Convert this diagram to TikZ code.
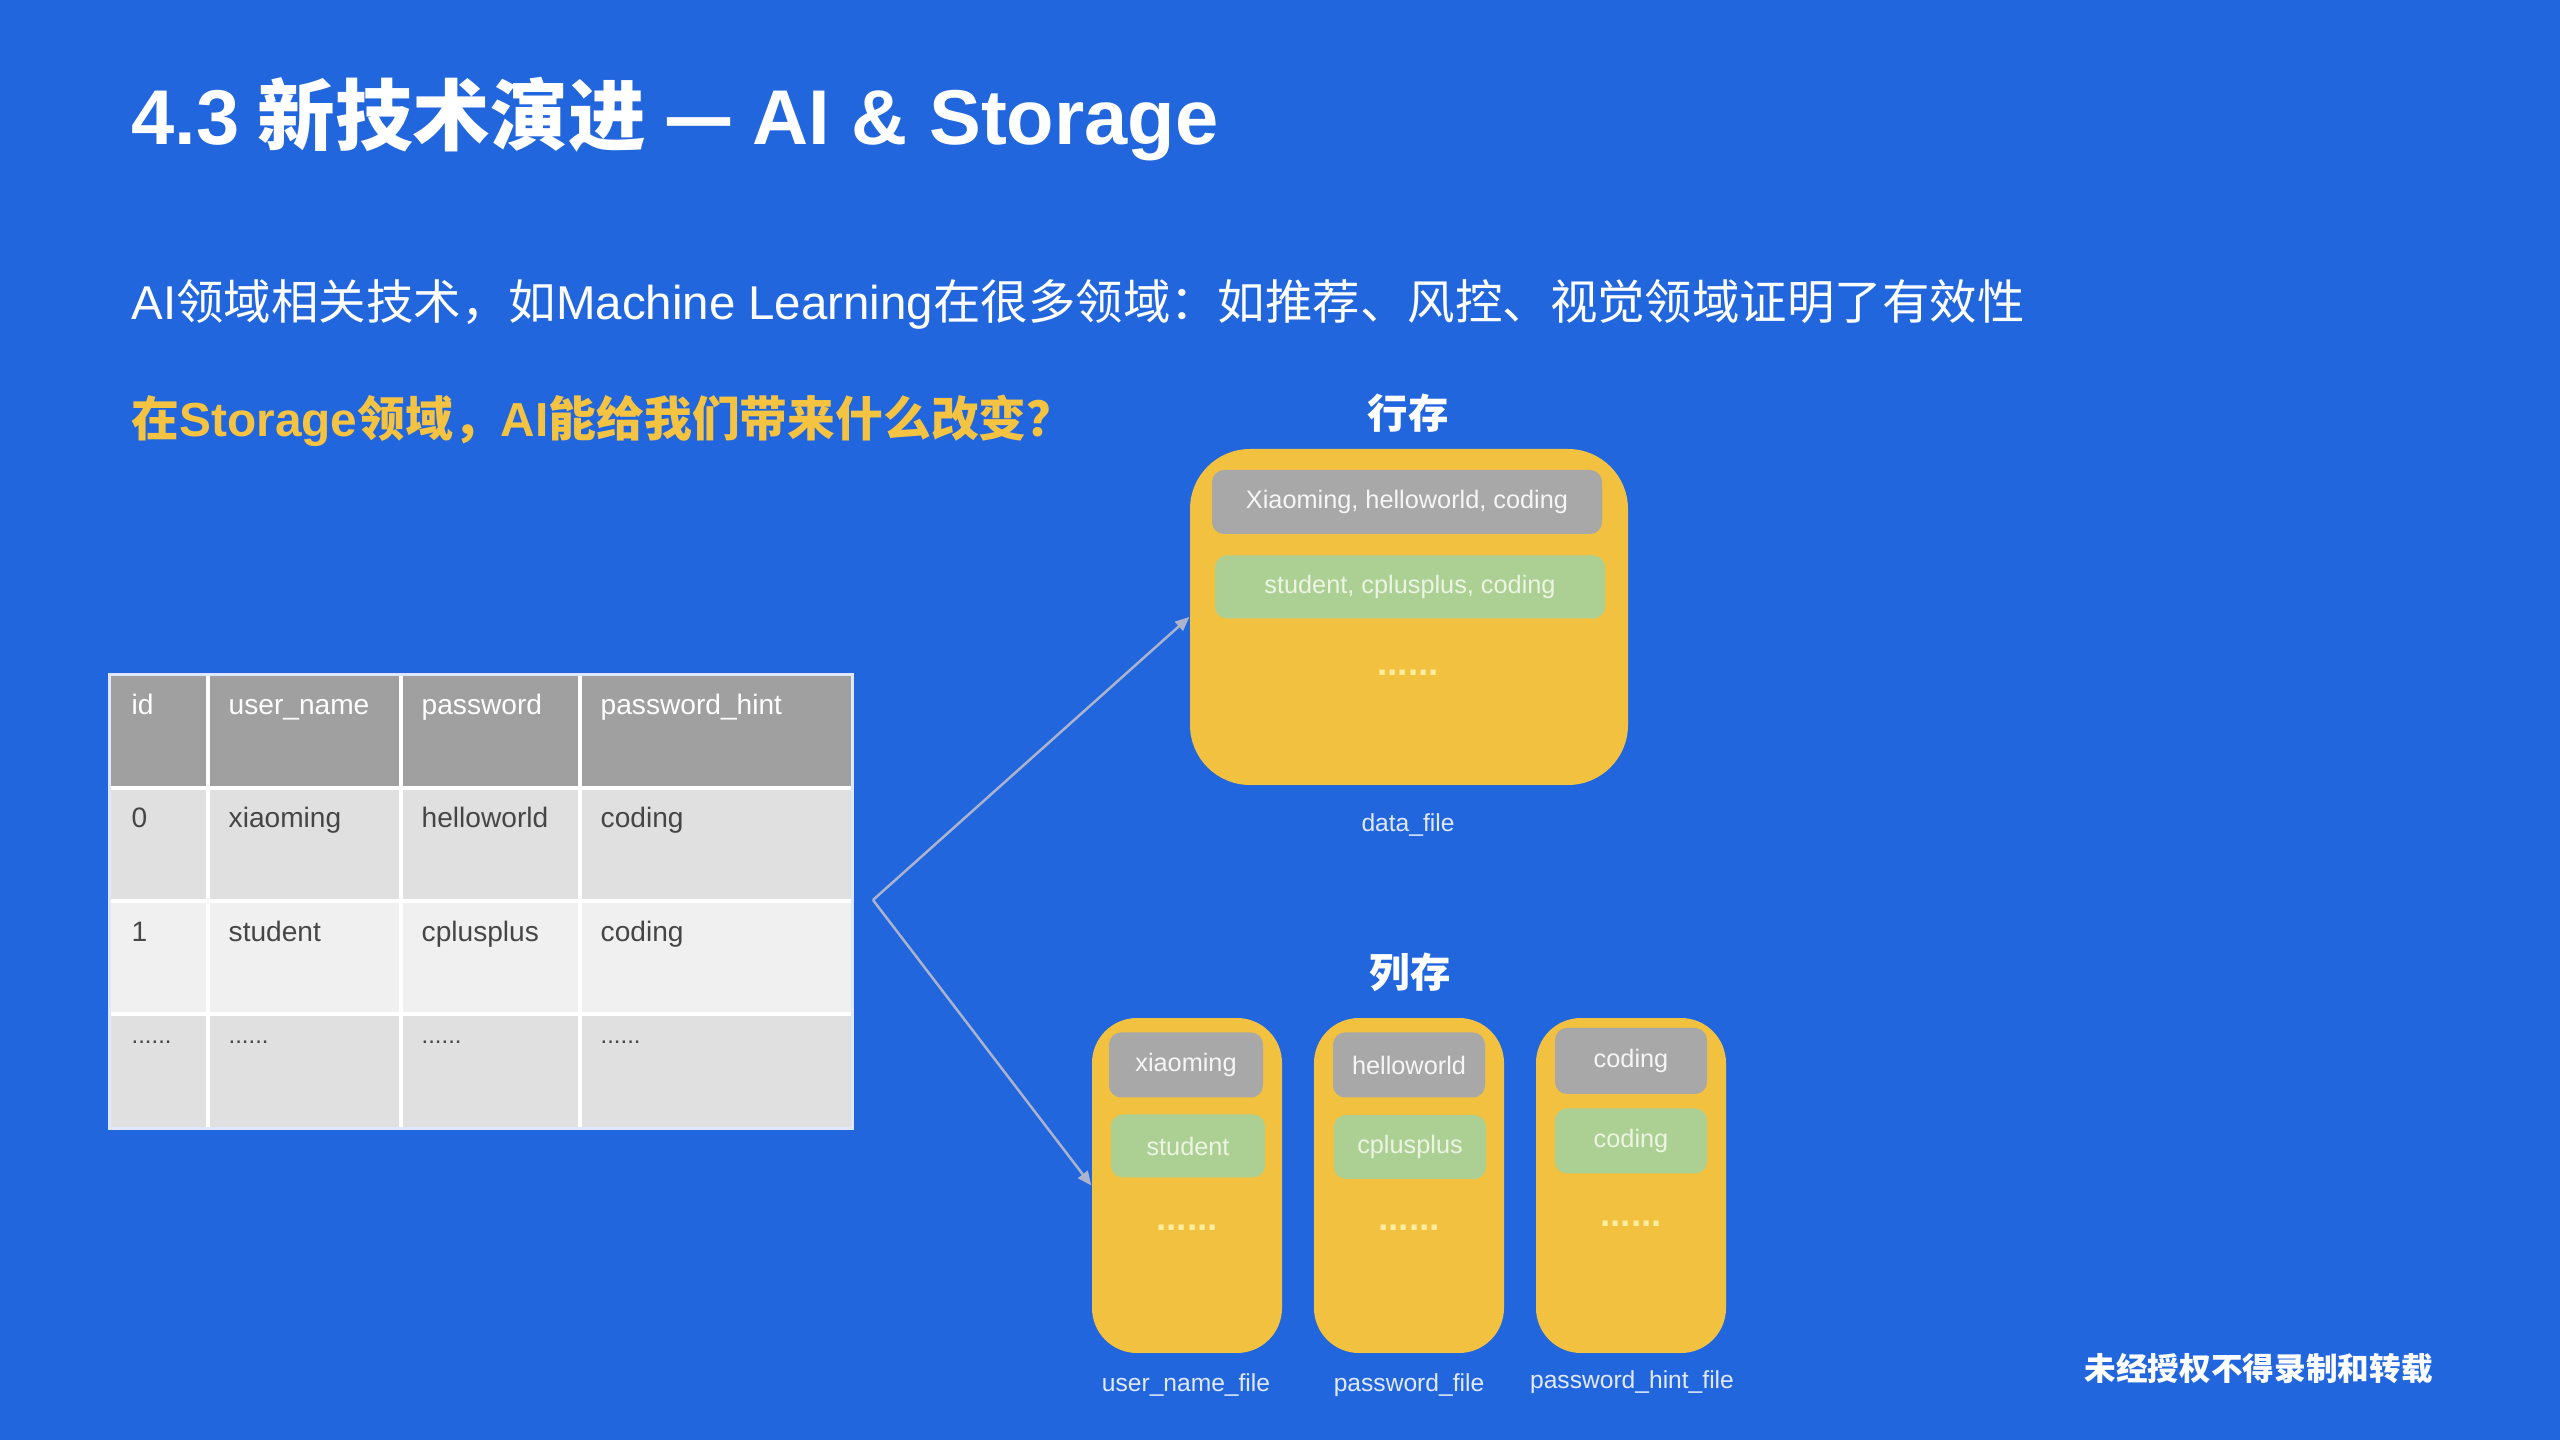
\documentclass[tikz,border=0pt]{standalone}
\usepackage{fontspec}
\setmainfont{Liberation Sans}
\newfontfamily\cjk{Noto Sans CJK SC}
\newfontfamily\latf{Liberation Sans}
\usetikzlibrary{arrows.meta}
\definecolor{bgblue}{RGB}{34,102,222}
\definecolor{boxyellow}{RGB}{243,193,64}
\definecolor{bargray}{RGB}{168,168,168}
\definecolor{bargreen}{RGB}{172,208,148}
\definecolor{qyellow}{RGB}{245,195,66}
\definecolor{hdrgray}{RGB}{160,160,160}
\definecolor{rowa}{RGB}{224,224,224}
\definecolor{rowb}{RGB}{240,240,240}
\definecolor{tbltext}{RGB}{70,70,70}
\definecolor{arrowgray}{RGB}{172,180,205}
\definecolor{graytext}{RGB}{246,246,246}
\definecolor{greentext}{RGB}{236,244,226}
\definecolor{dotyellow}{RGB}{255,238,160}
\definecolor{labeltext}{RGB}{225,233,250}
\tikzset{
  filebox/.style={fill=boxyellow, inner sep=0pt},
  graybar/.style={fill=bargray, rounded corners=1.2mm, inner sep=0pt, text=graytext, font=\fontsize{7.2}{9}\selectfont},
  greenbar/.style={fill=bargreen, rounded corners=1.2mm, inner sep=0pt, text=greentext, font=\fontsize{7.2}{9}\selectfont},
  dotsnode/.style={anchor=base, text=dotyellow, inner sep=0pt, font=\bfseries\fontsize{10.5}{12}\selectfont},
  filelabel/.style={text=labeltext, inner sep=0pt, font=\fontsize{7}{9}\selectfont},
  storelabel/.style={text=white, inner sep=0pt, font=\cjk\bfseries\fontsize{11.5}{14}\selectfont},
  hdrtext/.style={anchor=base west, inner sep=0pt, text=white, font=\fontsize{8}{10}\selectfont},
  celltext/.style={anchor=base west, inner sep=0pt, text=tbltext, font=\fontsize{8}{10}\selectfont},
  celldots/.style={anchor=base west, inner sep=0pt, text=tbltext, font=\fontsize{6.8}{8}\selectfont},
  link/.style={draw=arrowgray, line width=0.7pt, -{Triangle[length=4pt,width=3.4pt]}},
}
\begin{document}
\begin{tikzpicture}[x=0.1mm, y=-0.1mm]
\fill[bgblue] (0,0) rectangle (2560,1440);
\useasboundingbox (0,0) rectangle (2560,1440);

% title and texts
\node (title) [anchor=base west, inner sep=0pt, text=white, font=\cjk\bfseries\fontsize{22.1}{26}\selectfont] at (131,145)
  {{\latf 4.3} 新技术演进 — {\latf AI \& Storage}};
\node (sub) [anchor=base west, inner sep=0pt, text=white, font=\cjk\fontsize{13.5}{16}\selectfont] at (131,320)
  {{\latf AI}领域相关技术，如{\latf Machine Learning}在很多领域：如推荐、风控、视觉领域证明了有效性};
\node (question) [anchor=base west, inner sep=0pt, text=qyellow, font=\cjk\bfseries\fontsize{13.6}{16}\selectfont] at (131,437)
  {在{\latf Storage}领域，{\latf AI}能给我们带来什么改变？};
\node (watermark) [anchor=base west, inner sep=0pt, text=white, font=\cjk\bfseries\fontsize{9}{11}\selectfont] at (2084,1380)
  {未经授权不得录制和转载};

% table
\node (tbl) [minimum width=74.2mm, minimum height=45.3mm, inner sep=0pt] at (481,901.5) {};
\fill[hdrgray] (110,675) rectangle (852,788);
\fill[rowa] (110,788) rectangle (852,901);
\fill[rowb] (110,901) rectangle (852,1014);
\fill[rowa] (110,1014) rectangle (852,1128);
\draw[white, line width=1pt] (110,788) -- (852,788) (110,901) -- (852,901) (110,1014) -- (852,1014)
  (208,675) -- (208,1128) (401,675) -- (401,1128) (580,675) -- (580,1128);
\draw[white!85!bgblue, line width=0.8pt] (tbl.south west) rectangle (tbl.north east);
\node (h1) [hdrtext] at (131,715) {id};
\node (h2) [hdrtext] at (228,715) {user\_name};
\node (h3) [hdrtext] at (421,715) {password};
\node (h4) [hdrtext] at (600,715) {password\_hint};
\node (a1) [celltext] at (131,828) {0};
\node (a2) [celltext] at (228,828) {xiaoming};
\node (a3) [celltext] at (421,828) {helloworld};
\node (a4) [celltext] at (600,828) {coding};
\node (b1) [celltext] at (131,942) {1};
\node (b2) [celltext] at (228,942) {student};
\node (b3) [celltext] at (421,942) {cplusplus};
\node (b4) [celltext] at (600,942) {coding};
\node (c1) [celldots] at (131,1044) {......};
\node (c2) [celldots] at (228,1044) {......};
\node (c3) [celldots] at (421,1044) {......};
\node (c4) [celldots] at (600,1044) {......};

% row store
\node (rowlabel) [storelabel] at (1408,413) {行存};
\node (rowbox) [filebox, rounded corners=6mm, minimum width=43.8mm, minimum height=33.6mm] at (1409,617) {};
\node (rowgray) [graybar, minimum width=39mm, minimum height=6.4mm] at (1407,502) {Xiaoming, helloworld, coding};
\node (rowgreen) [greenbar, minimum width=39mm, minimum height=6.3mm] at (1410,587) {student, cplusplus, coding};
\node (rowdots) [dotsnode] at (1408,676) {......};
\node (datafile) [filelabel] at (1408,825) {data\_file};

% column store
\node (collabel) [storelabel] at (1410,972) {列存};
\node (colA) [filebox, rounded corners=4.5mm, minimum width=19mm, minimum height=33.5mm] at (1187,1185.5) {};
\node (colB) [filebox, rounded corners=4.5mm, minimum width=19mm, minimum height=33.5mm] at (1409,1185.5) {};
\node (colC) [filebox, rounded corners=4.5mm, minimum width=19mm, minimum height=33.5mm] at (1631,1185.5) {};
\node (colAgray) [graybar, minimum width=15.4mm, minimum height=6.5mm] at (1186,1065) {xiaoming};
\node (colAgreen) [greenbar, minimum width=15.4mm, minimum height=6.3mm] at (1188,1146) {student};
\node (colAdots) [dotsnode] at (1187,1231) {......};
\node (colBgray) [graybar, minimum width=15.2mm, minimum height=6.5mm] at (1409,1065) {helloworld};
\node (colBgreen) [greenbar, minimum width=15.2mm, minimum height=6.4mm] at (1410,1147) {cplusplus};
\node (colBdots) [dotsnode] at (1409,1231) {......};
\node (colCgray) [graybar, minimum width=15.2mm, minimum height=6.6mm] at (1631,1061) {coding};
\node (colCgreen) [greenbar, minimum width=15.2mm, minimum height=6.5mm] at (1631,1141) {coding};
\node (colCdots) [dotsnode] at (1631,1226) {......};
\node (fileA) [filelabel] at (1186,1385) {user\_name\_file};
\node (fileB) [filelabel] at (1409,1385) {password\_file};
\node (fileC) [filelabel] at (1632,1382) {password\_hint\_file};

% connectors
\coordinate (fork) at (873,900);
\draw[link] (fork) -- (rowbox.west);
\draw[link] (fork) -- (colA.west);
\end{tikzpicture}
\end{document}
